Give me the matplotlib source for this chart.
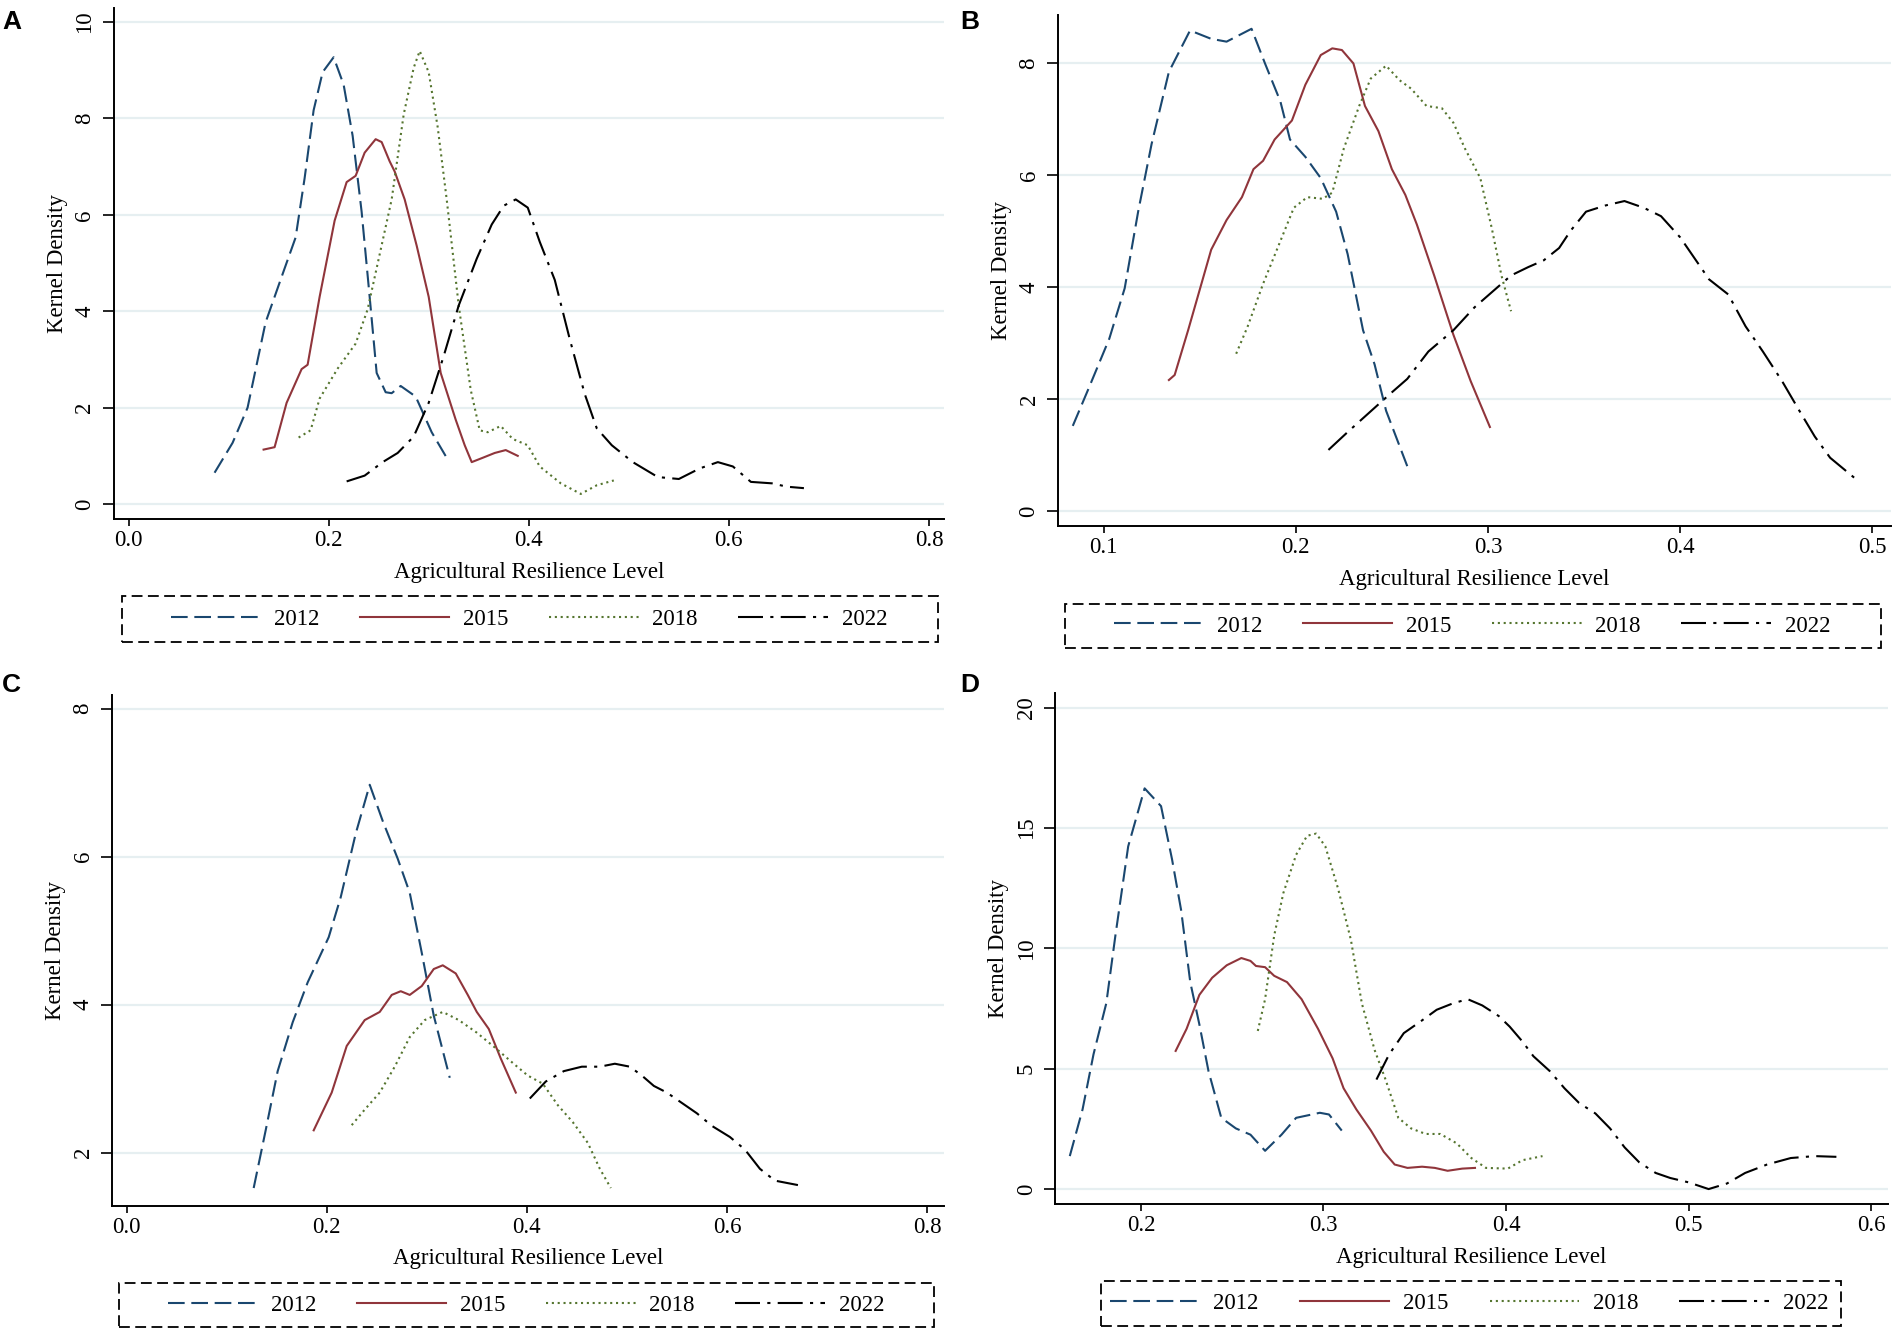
import matplotlib
matplotlib.use("Agg")
import matplotlib.pyplot as plt
from matplotlib.patches import Rectangle

plt.rcParams["font.family"] = ["Liberation Serif", "DejaVu Serif"]

W, H = 1892, 1329

years = ["2012", "2015", "2018", "2022"]
colors = ["#1a476f", "#90353b", "#55752f", "#000000"]

# ---- panel A ----
A12_x = [0.086, 0.104, 0.119, 0.137, 0.155, 0.167, 0.176, 0.185, 0.194, 0.205, 0.215, 0.224,
         0.233, 0.241, 0.248, 0.257, 0.263, 0.272, 0.287, 0.303, 0.318]
A12_y = [0.65, 1.27, 2.0, 3.77, 4.83, 5.53, 6.76, 8.17, 8.96, 9.27, 8.7, 7.64,
         6.06, 4.3, 2.72, 2.32, 2.3, 2.45, 2.23, 1.49, 0.96]
A15_x = [0.135, 0.146, 0.158, 0.173, 0.179, 0.191, 0.206, 0.218, 0.227, 0.236, 0.247, 0.253,
         0.261, 0.266, 0.276, 0.288, 0.300, 0.312, 0.327, 0.336, 0.343, 0.354, 0.366, 0.377, 0.389]
A15_y = [1.13, 1.18, 2.1, 2.8, 2.89, 4.3, 5.88, 6.68, 6.81, 7.29, 7.57, 7.51,
         7.11, 6.9, 6.32, 5.36, 4.3, 2.72, 1.75, 1.22, 0.87, 0.96, 1.06, 1.12, 1.0]
A18_x = [0.170, 0.182, 0.191, 0.209, 0.227, 0.239, 0.251, 0.263, 0.275, 0.285, 0.291, 0.300,
         0.309, 0.318, 0.330, 0.342, 0.351, 0.359, 0.372, 0.384, 0.399, 0.411, 0.432, 0.452,
         0.468, 0.485]
A18_y = [1.38, 1.53, 2.19, 2.81, 3.33, 4.04, 5.18, 6.32, 8.08, 9.05, 9.4, 8.96,
         7.82, 6.32, 4.12, 2.37, 1.53, 1.49, 1.62, 1.35, 1.22, 0.78, 0.43, 0.21,
         0.39, 0.49]
A22_x = [0.218, 0.236, 0.254, 0.269, 0.285, 0.300, 0.315, 0.330, 0.348, 0.363, 0.375, 0.387,
         0.399, 0.411, 0.426, 0.441, 0.456, 0.468, 0.483, 0.504, 0.529, 0.550, 0.571, 0.589,
         0.604, 0.622, 0.643, 0.658, 0.675]
A22_y = [0.47, 0.59, 0.87, 1.06, 1.4, 2.1, 3.07, 4.12, 5.09, 5.8, 6.19, 6.32,
         6.15, 5.44, 4.65, 3.42, 2.28, 1.57, 1.22, 0.87, 0.56, 0.52, 0.74, 0.87,
         0.78, 0.46, 0.43, 0.36, 0.33]

# ---- panel B ----
B12_x = [0.084, 0.092, 0.103, 0.111, 0.118, 0.125, 0.134, 0.145, 0.156, 0.164, 0.177, 0.184,
         0.192, 0.197, 0.205, 0.213, 0.221, 0.227, 0.235, 0.241, 0.247, 0.258]
B12_y = [1.52, 2.17, 3.08, 3.98, 5.35, 6.56, 7.85, 8.59, 8.44, 8.39, 8.62, 8.0,
         7.32, 6.64, 6.33, 5.95, 5.35, 4.59, 3.23, 2.62, 1.79, 0.8]
B15_x = [0.134, 0.137, 0.144, 0.156, 0.164, 0.172, 0.178, 0.183, 0.189, 0.198, 0.205, 0.213,
         0.219, 0.224, 0.230, 0.236, 0.243, 0.250, 0.257, 0.263, 0.272, 0.282, 0.291, 0.301]
B15_y = [2.34, 2.43, 3.23, 4.67, 5.2, 5.61, 6.11, 6.26, 6.64, 6.98, 7.62, 8.15,
         8.27, 8.24, 8.0, 7.24, 6.79, 6.11, 5.65, 5.12, 4.21, 3.15, 2.32, 1.5]
B18_x = [0.169, 0.175, 0.183, 0.191, 0.199, 0.206, 0.214, 0.219, 0.225, 0.233, 0.239, 0.247,
         0.254, 0.260, 0.268, 0.276, 0.282, 0.288, 0.296, 0.302, 0.307, 0.312]
B18_y = [2.81, 3.3, 4.06, 4.74, 5.42, 5.61, 5.58, 5.69, 6.48, 7.24, 7.73, 7.96,
         7.7, 7.55, 7.24, 7.2, 6.94, 6.48, 5.95, 5.05, 4.21, 3.57]
B22_x = [0.217, 0.227, 0.238, 0.249, 0.258, 0.269, 0.282, 0.293, 0.302, 0.312, 0.321, 0.329,
         0.337, 0.343, 0.351, 0.361, 0.371, 0.381, 0.390, 0.400, 0.409, 0.415, 0.425, 0.434,
         0.443, 0.453, 0.462, 0.470, 0.478, 0.491]
B22_y = [1.09, 1.41, 1.75, 2.09, 2.36, 2.85, 3.23, 3.64, 3.91, 4.21, 4.36, 4.48,
         4.7, 5.01, 5.35, 5.46, 5.54, 5.42, 5.27, 4.89, 4.44, 4.14, 3.87, 3.3,
         2.85, 2.32, 1.79, 1.33, 0.95, 0.58]

# ---- panel C ----
C12_x = [0.127, 0.139, 0.151, 0.166, 0.181, 0.202, 0.214, 0.229, 0.243, 0.256, 0.271, 0.283,
         0.295, 0.307, 0.323]
C12_y = [1.52, 2.3, 3.1, 3.76, 4.3, 4.91, 5.45, 6.31, 6.97, 6.48, 5.97, 5.51,
         4.7, 3.85, 3.01]
C15_x = [0.187, 0.205, 0.220, 0.238, 0.253, 0.265, 0.274, 0.283, 0.295, 0.307, 0.316, 0.329,
         0.341, 0.350, 0.362, 0.374, 0.389]
C15_y = [2.3, 2.81, 3.44, 3.79, 3.9, 4.13, 4.18, 4.13, 4.25, 4.48, 4.53, 4.42,
         4.13, 3.9, 3.67, 3.27, 2.81]
C18_x = [0.225, 0.238, 0.253, 0.268, 0.283, 0.298, 0.316, 0.332, 0.350, 0.368, 0.386, 0.401,
         0.416, 0.431, 0.446, 0.461, 0.473, 0.484]
C18_y = [2.37, 2.58, 2.81, 3.16, 3.56, 3.79, 3.9, 3.79, 3.62, 3.42, 3.21, 3.04,
         2.93, 2.64, 2.41, 2.13, 1.78, 1.52]
C22_x = [0.403, 0.419, 0.437, 0.455, 0.473, 0.488, 0.503, 0.515, 0.527, 0.540, 0.555, 0.570,
         0.585, 0.603, 0.618, 0.633, 0.648, 0.671]
C22_y = [2.73, 2.96, 3.1, 3.16, 3.16, 3.2, 3.16, 3.04, 2.9, 2.81, 2.67, 2.53,
         2.36, 2.21, 2.04, 1.78, 1.62, 1.56]

# ---- panel D ----
D12_x = [0.161, 0.168, 0.174, 0.181, 0.186, 0.193, 0.202, 0.211, 0.217, 0.222, 0.227, 0.232,
         0.237, 0.244, 0.252, 0.260, 0.268, 0.277, 0.285, 0.298, 0.303, 0.310]
D12_y = [1.37, 3.31, 5.6, 7.72, 10.54, 14.24, 16.65, 15.91, 13.71, 11.59, 8.6, 6.84,
         4.9, 2.96, 2.52, 2.26, 1.59, 2.26, 2.96, 3.17, 3.1, 2.43]
D15_x = [0.219, 0.225, 0.232, 0.239, 0.247, 0.255, 0.260, 0.263, 0.268, 0.273, 0.280, 0.288,
         0.297, 0.305, 0.311, 0.318, 0.326, 0.333, 0.339, 0.346, 0.354, 0.361, 0.368, 0.376, 0.383]
D15_y = [5.74, 6.66, 8.07, 8.78, 9.3, 9.6, 9.48, 9.27, 9.22, 8.86, 8.6, 7.89,
         6.66, 5.43, 4.19, 3.31, 2.43, 1.55, 1.02, 0.88, 0.93, 0.88, 0.76, 0.85, 0.88]
D18_x = [0.264, 0.268, 0.273, 0.278, 0.285, 0.291, 0.296, 0.301, 0.308, 0.315, 0.321, 0.328,
         0.334, 0.341, 0.348, 0.356, 0.364, 0.373, 0.381, 0.389, 0.401, 0.409, 0.420]
D18_y = [6.57, 7.89, 10.54, 12.3, 13.89, 14.68, 14.77, 14.24, 12.48, 10.36, 7.72, 5.78,
         4.55, 2.96, 2.52, 2.29, 2.29, 1.9, 1.29, 0.88, 0.85, 1.2, 1.37]
D22_x = [0.329, 0.336, 0.344, 0.354, 0.362, 0.371, 0.379, 0.387, 0.396, 0.402, 0.409, 0.415,
         0.424, 0.432, 0.440, 0.449, 0.457, 0.465, 0.473, 0.482, 0.490, 0.500, 0.511, 0.521,
         0.531, 0.543, 0.556, 0.569, 0.581]
D22_y = [4.55, 5.6, 6.48, 7.01, 7.45, 7.72, 7.89, 7.63, 7.19, 6.75, 6.13, 5.52,
         4.9, 4.19, 3.58, 3.14, 2.52, 1.73, 1.11, 0.67, 0.46, 0.28, 0.0, 0.23,
         0.67, 1.02, 1.29, 1.37, 1.34]

A_xticks = [0.0, 0.2, 0.4, 0.6, 0.8]
A_yticks = [0, 2, 4, 6, 8, 10]
B_xticks = [0.1, 0.2, 0.3, 0.4, 0.5]
B_yticks = [0, 2, 4, 6, 8]
C_xticks = [0.0, 0.2, 0.4, 0.6, 0.8]
C_yticks = [2, 4, 6, 8]
D_xticks = [0.2, 0.3, 0.4, 0.5, 0.6]
D_yticks = [0, 5, 10, 15, 20]

styles = [(0, (8, 3.2)), "-", (0, (1.0, 1.8)), (0, (12, 3.5, 1.5, 3.5))]

FS = 16.5

fig = plt.figure(figsize=(W / 100, H / 100), dpi=100)


def px_axes(l, t, r, b):
    return fig.add_axes([l / W, 1 - b / H, (r - l) / W, (b - t) / H])


panels = [
    ("A", (113.5, 7.6, 944, 519), (-0.015, 0.815), (-0.31, 10.3), A_xticks, A_yticks,
     [(A12_x, A12_y), (A15_x, A15_y), (A18_x, A18_y), (A22_x, A22_y)],
     (122, 596, 938, 642), (171, 887), (2, 29)),
    ("B", (1057.6, 14.8, 1890.5, 526), (0.0761, 0.5094), (-0.27, 8.87), B_xticks, B_yticks,
     [(B12_x, B12_y), (B15_x, B15_y), (B18_x, B18_y), (B22_x, B22_y)],
     (1065, 604, 1881, 648), (1114, 1830), (960, 29)),
    ("C", (111.6, 694.5, 944, 1205.5), (-0.015, 0.817), (1.284, 8.19), C_xticks, C_yticks,
     [(C12_x, C12_y), (C15_x, C15_y), (C18_x, C18_y), (C22_x, C22_y)],
     (119, 1283, 934, 1327), (168, 884), (2, 692)),
    ("D", (1055, 692.8, 1887.5, 1204), (0.1529, 0.609), (-0.62, 20.62), D_xticks, D_yticks,
     [(D12_x, D12_y), (D15_x, D15_y), (D18_x, D18_y), (D22_x, D22_y)],
     (1101, 1281, 1841, 1326), (1110, 1828), (960, 692)),
]

for letter, box, xlim, ylim, xt, yt, series, lbox, lspan, lpos in panels:
    ax = px_axes(*box)
    for spine in ["top", "right"]:
        ax.spines[spine].set_visible(False)
    for spine in ["left", "bottom"]:
        ax.spines[spine].set_linewidth(1.4)
    for y in yt:
        ax.axhline(y, color="#e6eff1", lw=1.6, zorder=0)
    lines = []
    for (xs, ys), c, ls, yr in zip(series, colors, styles, years):
        ln, = ax.plot(xs, ys, color=c, linestyle=ls, lw=1.5, label=yr)
        lines.append(ln)
    ax.set_xlim(*xlim)
    ax.set_ylim(*ylim)
    ax.set_xticks(xt)
    ax.set_xticklabels(["%.1f" % v for v in xt], fontsize=FS)
    ax.set_yticks(yt)
    ax.set_yticklabels([str(v) for v in yt], fontsize=FS, rotation=90, va="center")
    ax.tick_params(axis="x", length=5, width=1.2, pad=3)
    ax.tick_params(axis="y", length=8, width=1.2, pad=5)
    ax.set_xlabel("Agricultural Resilience Level", fontsize=FS, labelpad=7.5)
    ax.set_ylabel("Kernel Density", fontsize=FS, labelpad=5)

    # dashed legend frame
    l, t, r, b = lbox
    fig.patches.append(Rectangle((l / W, 1 - b / H), (r - l) / W, (b - t) / H,
                                 transform=fig.transFigure, fill=False, edgecolor="black",
                                 lw=1.3, linestyle=(0, (6, 3))))
    x0, x1 = lspan
    yc = (t + b) / 2
    fig.legend(handles=lines, loc="center", ncol=4, mode="expand", frameon=False,
               bbox_to_anchor=(x0 / W, 1 - (yc + 15) / H, (x1 - x0) / W, 30 / H),
               borderpad=0, borderaxespad=0, handlelength=3.9, handletextpad=0.6,
               fontsize=FS)

    fig.text(lpos[0] / W, 1 - lpos[1] / H, letter, fontsize=19, fontweight="bold",
             family=["Liberation Sans", "DejaVu Sans"], ha="left", va="baseline")

fig.savefig("out.png", dpi=100)
